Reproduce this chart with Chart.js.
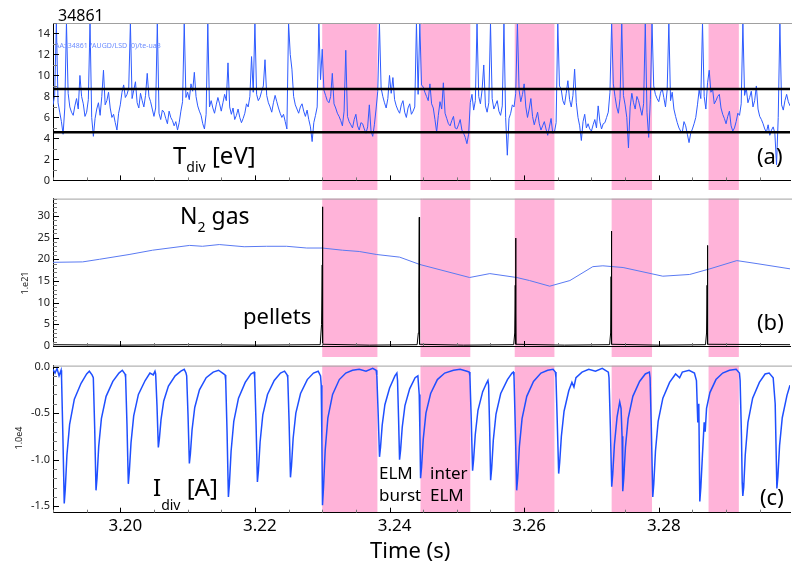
<!DOCTYPE html>
<html>
<head>
<meta charset="utf-8">
<script src="https://cdn.jsdelivr.net/npm/chart.js@4.4.0/dist/chart.umd.min.js"></script>
<style>
  body { margin: 0; background: #fff; }
  #wrap { position: relative; width: 792px; height: 565px; overflow: hidden; font-family: 'Noto Sans', sans-serif; }
  canvas { position: absolute; left: 0; }
  .lbl { position: absolute; line-height: 1; white-space: nowrap; color: #000; }
  .sb { font-size: 14px; position: relative; }
  .rot { position: absolute; font-size: 9px; color: #222; transform: translate(-50%, -50%) rotate(-90deg); white-space: nowrap; line-height: 1; }
</style>
</head>
<body>
<div id="wrap">
  <canvas id="ca" width="792" height="190" style="top:0px"></canvas>
  <canvas id="cb" width="792" height="168" style="top:189px"></canvas>
  <canvas id="cc" width="792" height="209" style="top:356px"></canvas>

  <div class="lbl" style="left:58px;top:7px;font-size:16px">34861</div>
  <div class="lbl" style="left:55px;top:41.5px;font-size:7px;color:#6d8dff">AA: 34861 /AUGD/LSD (0)/te-ua3</div>
  <div class="lbl" style="left:173px;top:143px;font-size:24px">T<span class="sb" style="top:8px">div</span> [eV]</div>
  <div class="lbl" style="left:757px;top:143.5px;font-size:22px">(a)</div>
  <div class="lbl" style="left:180px;top:204px;font-size:23px">N<span class="sb" style="top:8px">2</span> gas</div>
  <div class="lbl" style="left:243px;top:304px;font-size:22px">pellets</div>
  <div class="lbl" style="left:757px;top:310px;font-size:22px">(b)</div>
  <div class="lbl" style="left:153px;top:475px;font-size:24px">I<span class="sb" style="top:14px">div</span> [A]</div>
  <div class="lbl" style="left:379px;top:462px;font-size:17px;line-height:22px">ELM<br>burst</div>
  <div class="lbl" style="left:430px;top:462px;font-size:17px;line-height:22px">inter<br>ELM</div>
  <div class="lbl" style="left:760px;top:485px;font-size:22px">(c)</div>
  <div class="lbl" style="left:370px;top:538px;font-size:22px">Time (s)</div>
  <div class="rot" style="left:24px;top:283px">1.e21</div>
  <div class="rot" style="left:18px;top:438px">1.0e4</div>
</div>

<script>
// time axis
const xMin = 3.19, xMax = 3.2995;
const xMinorStep = 0.005, xMajorStep = 0.02;

// shaded intervals (s)
const bandStart = [3.2300, 3.2446, 3.2586, 3.2730, 3.2874];
const bandEnd   = [3.2382, 3.2520, 3.2645, 3.2790, 3.2919];

// (a) divertor temperature, eV, one sample every 0.25 ms from 3.19 s
const tdivStart = 3.19, tdivStep = 0.00025;
const tdivValues = [
  7.2,8.1,15,7.4,6.5,5.6,4.4,6.9,15,8.3,7.0,6.5,6.2,7.1,7.8,6.8,10.0,8.0,7.3,6.1,
  6.5,7.7,15,6.0,4.2,5.9,6.8,7.4,6.2,8.0,10.5,7.2,7.6,8.4,6.9,6.0,6.3,5.5,4.8,6.4,
  7.2,8.4,9.1,7.9,8.2,8.8,15,7.8,8.6,9.4,7.4,6.9,8.3,7.6,7.0,8.1,10.2,8.0,7.5,6.8,
  6.1,6.9,15,6.4,5.8,6.7,6.5,5.9,5.4,6.6,6.0,5.7,5.2,5.6,4.8,5.5,6.6,7.5,15,7.9,
  8.4,7.7,9.2,8.5,10.3,8.0,7.1,6.6,6.2,5.4,4.9,6.3,15,7.0,7.6,6.9,6.4,7.2,7.9,7.3,
  6.6,7.4,8.2,7.6,11.2,7.0,6.3,6.9,5.8,6.2,6.8,6.0,5.5,5.9,6.4,7.3,7.0,8.0,11.8,8.4,
  15,8.2,7.6,7.9,8.5,9.0,11.5,8.1,7.4,7.0,6.5,7.4,8.1,7.5,6.9,6.4,6.0,6.3,5.6,4.9,
  15,12.0,10.6,8.0,7.2,6.8,6.4,7.0,7.3,6.6,6.1,6.7,5.8,5.1,3.7,5.5,6.2,7.0,15,9.6,
  12.5,8.6,8.1,7.6,7.4,8.0,10.2,7.3,6.9,6.4,6.1,5.7,5.2,6.6,12.4,6.1,5.6,5.3,5.0,5.8,
  6.3,5.2,4.8,5.5,5.4,4.9,4.5,5.1,7.2,4.7,4.2,5.3,6.8,8.5,15,8.8,8.0,7.4,6.9,7.8,
  10.0,8.3,9.8,7.7,7.1,6.7,6.4,7.2,7.6,6.5,6.0,6.9,7.3,6.3,6.6,7.0,15,8.2,15,9.1,
  8.9,8.4,8.0,7.6,9.2,7.3,6.9,5.8,4.6,6.2,7.5,6.8,9.3,6.4,5.9,5.4,5.2,5.7,6.1,5.0,
  4.9,5.3,5.8,4.8,4.5,4.1,3.5,4.4,7.4,8.2,6.7,7.6,15,8.0,7.3,8.6,11.0,7.1,6.5,7.4,
  15,7.8,6.8,7.2,7.6,6.6,6.2,7.1,15,6.0,2.4,5.9,6.4,7.2,7.0,8.3,15,8.6,7.5,8.2,
  9.2,7.0,6.0,6.8,7.8,6.1,5.3,5.9,6.5,5.4,4.8,5.2,5.6,4.9,4.3,5.1,5.9,4.5,4.6,5.5,
  15,9.0,8.7,7.6,7.2,8.3,9.5,7.7,7.0,8.1,10.6,7.4,6.0,5.2,3.8,5.6,6.3,5.0,5.4,4.9,
  4.7,5.3,5.8,5.0,7.1,5.6,4.9,5.4,5.5,6.0,6.5,8.4,15,9.2,8.0,7.0,6.4,7.8,15,8.1,
  7.2,6.0,3.1,7.0,8.3,7.4,6.8,8.0,7.6,6.9,6.2,7.3,15,6.5,4.1,7.7,15,9.0,8.2,7.8,
  7.5,8.3,8.8,7.9,7.0,8.6,15,7.6,8.4,6.8,6.1,5.5,5.0,4.7,4.6,5.6,5.2,4.4,3.6,4.5,
  4.9,5.4,6.0,7.2,8.6,7.8,15,8.0,6.8,9.3,10.5,8.4,8.7,7.3,7.6,8.0,8.2,6.9,6.3,5.9,
  5.4,6.1,6.6,5.2,4.7,5.0,5.6,6.4,6.2,7.3,15,8.1,8.8,7.4,7.9,8.5,7.0,7.6,9.0,6.8,
  6.1,5.8,5.4,4.9,4.6,5.3,4.3,4.8,5.1,4.5,1.5,6.0,15,7.2,6.7,7.6,8.2,7.5,7.1,6.6
];
const tdivLevels = [8.7, 4.6];
const tdivMajor = 2, tdivMinor = 1;

// (b) N2 gas and pellets, 1e21
const n2Points = [
  [3.1899,19.3],[3.1944,19.4],[3.1969,20.0],[3.2013,21.1],[3.2048,22.1],[3.2103,23.2],
  [3.2122,23.0],[3.2147,23.4],[3.2184,22.9],[3.2217,23.0],[3.2247,23.0],[3.2277,22.6],
  [3.2300,22.6],[3.2330,22.1],[3.2355,21.8],[3.2381,21.1],[3.2415,20.5],[3.2445,18.8],
  [3.2519,15.8],[3.2549,16.7],[3.2589,15.8],[3.2608,15.1],[3.2638,13.8],[3.2668,15.1],
  [3.2702,18.3],[3.2717,18.5],[3.2747,18.1],[3.2806,16.1],[3.2846,16.5],[3.2876,17.8],
  [3.2916,19.7],[3.2946,19.0],[3.2995,17.8]
];
const pelletPoints = [
  [3.1900,0.3],[3.2000,0.2],[3.2100,0.3],[3.2200,0.2],
  [3.2297,0.3],[3.2299,5],[3.2300,18.7],[3.23004,32.1],[3.23008,0.4],[3.2370,0.2],
  [3.2441,0.3],[3.24428,3],[3.24435,12],[3.24442,29.7],[3.24446,0.4],[3.2510,0.2],
  [3.25845,0.3],[3.2586,3],[3.25868,14],[3.25874,24.9],[3.25878,0.4],[3.2660,0.2],
  [3.2727,0.3],[3.27285,3],[3.27292,16],[3.27297,26.5],[3.27301,0.4],[3.2800,0.2],
  [3.28695,0.3],[3.2871,3],[3.28718,14],[3.28724,23.2],[3.28728,0.4],[3.2995,0.3]
];
const n2Major = 5, n2Minor = 1;

// (c) divertor current, 1e4 A
const idivPoints = [
  [3.1900,-0.03],[3.1903,-0.07],[3.1906,-0.02],[3.1909,-0.10],[3.1912,-0.04],
  [3.19127,-0.12],[3.19147,-0.75],[3.19167,-1.47],[3.19182,-1.32],[3.19207,-0.95],[3.19247,-0.62],[3.19317,-0.35],[3.19417,-0.18],[3.19500,-0.08],[3.19540,-0.05],[3.19580,-0.09],
  [3.19599,-0.12],[3.19619,-0.65],[3.19639,-1.33],[3.19654,-1.20],[3.19679,-0.86],[3.19719,-0.56],[3.19789,-0.32],[3.19889,-0.16],[3.19980,-0.07],[3.20030,-0.04],[3.20070,-0.08],
  [3.20079,-0.12],[3.20099,-0.62],[3.20119,-1.26],[3.20134,-1.13],[3.20159,-0.82],[3.20199,-0.53],[3.20269,-0.30],[3.20369,-0.15],[3.20440,-0.07],[3.20490,-0.09],[3.20515,-0.05],
  [3.20525,-0.08],[3.20545,-0.42],[3.20565,-0.87],[3.20580,-0.78],[3.20605,-0.57],[3.20645,-0.37],[3.20715,-0.21],[3.20815,-0.10],[3.20900,-0.05],[3.20950,-0.03],[3.20976,-0.07],
  [3.20986,-0.10],[3.21006,-0.52],[3.21026,-1.04],[3.21041,-0.94],[3.21066,-0.68],[3.21106,-0.44],[3.21176,-0.25],[3.21276,-0.12],[3.21380,-0.06],[3.21460,-0.04],[3.21520,-0.07],[3.21556,-0.09],
  [3.21566,-0.15],[3.21586,-0.70],[3.21606,-1.40],[3.21621,-1.26],[3.21646,-0.91],[3.21686,-0.59],[3.21756,-0.34],[3.21856,-0.17],[3.21940,-0.08],[3.21987,-0.06],
  [3.21997,-0.12],[3.22017,-0.62],[3.22037,-1.24],[3.22052,-1.12],[3.22077,-0.81],[3.22117,-0.52],[3.22187,-0.30],[3.22287,-0.15],[3.22380,-0.07],[3.22440,-0.05],[3.22478,-0.09],
  [3.22488,-0.12],[3.22508,-0.60],[3.22528,-1.19],[3.22543,-1.07],[3.22568,-0.77],[3.22608,-0.50],[3.22678,-0.29],[3.22778,-0.14],[3.22870,-0.07],[3.22940,-0.05],[3.22975,-0.10],
  [3.22985,-0.20],[3.22995,-0.80],[3.23004,-1.49],[3.23019,-1.30],[3.23044,-0.90],[3.23084,-0.55],[3.23154,-0.30],[3.23254,-0.14],[3.23350,-0.07],[3.23450,-0.04],[3.23550,-0.03],[3.23650,-0.05],[3.23750,-0.02],[3.23801,-0.04],
  [3.23811,-0.10],[3.23831,-0.50],[3.23851,-0.97],[3.23866,-0.87],[3.23891,-0.63],[3.23931,-0.41],[3.24001,-0.23],[3.24080,-0.10],[3.24109,-0.07],
  [3.24119,-0.15],[3.24134,-0.55],[3.24149,-1.00],[3.24164,-0.90],[3.24189,-0.65],[3.24229,-0.42],[3.24299,-0.24],[3.24380,-0.12],[3.24421,-0.10],
  [3.24441,-0.30],[3.24451,-0.70],[3.24461,-1.20],[3.24476,-1.08],[3.24501,-0.78],[3.24541,-0.50],[3.24611,-0.29],[3.24711,-0.14],[3.24820,-0.07],[3.24950,-0.04],[3.25050,-0.03],[3.25150,-0.05],[3.25184,-0.06],
  [3.25194,-0.10],[3.25214,-0.56],[3.25234,-1.12],[3.25249,-1.00],[3.25274,-0.73],[3.25314,-0.47],[3.25384,-0.27],[3.25440,-0.18],[3.25462,-0.15],
  [3.25472,-0.20],[3.25487,-0.65],[3.25502,-1.22],[3.25517,-1.10],[3.25542,-0.79],[3.25582,-0.51],[3.25652,-0.29],[3.25752,-0.14],[3.25820,-0.07],[3.25839,-0.06],
  [3.25849,-0.10],[3.25869,-0.66],[3.25889,-1.33],[3.25904,-1.20],[3.25929,-0.86],[3.25969,-0.56],[3.26039,-0.32],[3.26139,-0.16],[3.26250,-0.07],[3.26350,-0.04],[3.26430,-0.03],[3.26463,-0.06],
  [3.26473,-0.12],[3.26493,-0.62],[3.26513,-1.15],[3.26528,-1.03],[3.26553,-0.75],[3.26593,-0.48],[3.26663,-0.26],[3.26710,-0.17],[3.26740,-0.22],[3.26770,-0.12],[3.26860,-0.06],[3.26960,-0.03],[3.27060,-0.05],[3.27160,-0.02],[3.27251,-0.06],
  [3.27261,-0.12],[3.27281,-0.65],[3.27301,-1.29],[3.27316,-1.16],[3.27341,-0.84],[3.27381,-0.54],[3.27420,-0.38],[3.27440,-0.45],
  [3.27455,-0.75],[3.27465,-1.34],[3.27480,-1.20],[3.27505,-0.87],[3.27545,-0.56],[3.27615,-0.32],[3.27715,-0.16],[3.27800,-0.08],[3.27861,-0.06],
  [3.27871,-0.12],[3.27891,-0.70],[3.27911,-1.40],[3.27926,-1.26],[3.27951,-0.91],[3.27991,-0.59],[3.28061,-0.34],[3.28161,-0.17],[3.28250,-0.08],[3.28310,-0.12],[3.28350,-0.06],[3.28450,-0.04],[3.28530,-0.07],
  [3.28560,-0.15],[3.28580,-0.60],[3.28595,-0.40],[3.28610,-1.45],[3.28625,-1.30],[3.28650,-0.94],[3.28675,-0.60],[3.28690,-0.70],[3.28710,-0.45],[3.28760,-0.28],[3.28850,-0.14],[3.28950,-0.07],[3.29050,-0.04],[3.29150,-0.03],[3.29199,-0.07],
  [3.29209,-0.15],[3.29229,-0.75],[3.29240,-1.25],[3.29249,-1.39],[3.29262,-1.30],[3.29285,-0.95],[3.29325,-0.60],[3.29395,-0.34],[3.29495,-0.17],[3.29580,-0.08],[3.29640,-0.07],[3.29700,-0.12],[3.29730,-0.40],
  [3.29755,-1.31],[3.29770,-1.18],[3.29795,-0.85],[3.29835,-0.55],[3.29905,-0.31],[3.29950,-0.20]
];
const idivMajor = 0.5, idivMinor = 0.1;

const pink = '#ffb3d9';
const fontFam = "'Noto Sans', sans-serif";

function isMultiple(v, step) {
  const r = v / step;
  return Math.abs(r - Math.round(r)) < 1e-6;
}

function stepTicks(lo, hi, step) {
  const out = [];
  for (let k = Math.ceil(lo / step - 1e-9); k * step <= hi + 1e-9; k++) {
    out.push({value: +(k * step).toFixed(6)});
  }
  return out;
}

const toXY = arr => arr.map(p => ({x: p[0], y: p[1]}));

// pink intervals behind everything, optionally running down into the gap below
const bandsPlugin = {
  id: 'bands',
  beforeDraw(chart, args, opts) {
    const {ctx, chartArea: a, scales: {x}} = chart;
    const bottom = opts.toEdge ? chart.height : a.bottom;
    ctx.save();
    ctx.fillStyle = pink;
    bandStart.forEach((s, i) => {
      const x0 = x.getPixelForValue(s), x1 = x.getPixelForValue(bandEnd[i]);
      ctx.fillRect(x0, a.top, x1 - x0, bottom - a.top);
    });
    ctx.restore();
  }
};

// ticks pointing into the plot + grey top frame line
const innerTicksPlugin = {
  id: 'innerTicks',
  afterDraw(chart, args, opts) {
    const {ctx, chartArea: a, scales: {x, y}} = chart;
    ctx.save();
    ctx.lineWidth = 1;
    ctx.strokeStyle = '#a0a0a0';
    ctx.beginPath();
    ctx.moveTo(a.left, a.top + 0.5);
    ctx.lineTo(chart.width, a.top + 0.5);
    ctx.stroke();
    x.ticks.forEach(t => {
      const major = isMultiple(t.value, xMajorStep);
      const px = Math.round(x.getPixelForValue(t.value)) + 0.5;
      ctx.strokeStyle = major ? '#000' : '#777';
      ctx.beginPath();
      ctx.moveTo(px, a.bottom);
      ctx.lineTo(px, a.bottom - (major ? 5 : 3));
      ctx.stroke();
    });
    y.ticks.forEach(t => {
      const major = isMultiple(t.value, opts.yMajor);
      const py = Math.round(y.getPixelForValue(t.value)) + 0.5;
      ctx.strokeStyle = major ? '#000' : '#777';
      ctx.beginPath();
      ctx.moveTo(a.left, py);
      ctx.lineTo(a.left + (major ? 6 : 4), py);
      ctx.stroke();
    });
    ctx.restore();
  }
};

Chart.register(bandsPlugin, innerTicksPlugin);

function panelOptions(o) {
  return {
    responsive: false,
    animation: false,
    devicePixelRatio: 1,
    layout: {padding: {left: 0, right: 2, top: o.padTop, bottom: 0}},
    elements: {point: {radius: 0}, line: {tension: 0}},
    plugins: {
      legend: {display: false},
      tooltip: {enabled: false},
      bands: {toEdge: o.toEdge},
      innerTicks: {yMajor: o.yMajor}
    },
    scales: {
      x: {
        type: 'linear', min: xMin, max: xMax,
        afterFit: s => { s.height = o.xHeight; },
        afterBuildTicks: s => { s.ticks = stepTicks(xMin, xMax, xMinorStep); },
        grid: {display: false, drawTicks: false},
        border: {display: true, color: '#000', width: 1},
        ticks: {
          display: o.xLabels, autoSkip: false, maxRotation: 0, padding: 3, labelOffset: 5,
          color: '#000', font: {family: fontFam, size: 17},
          callback: v => isMultiple(v, xMajorStep) ? v.toFixed(2) : ''
        }
      },
      y: {
        type: 'linear', min: o.yMin, max: o.yMax,
        afterFit: s => { s.width = 53; },
        afterBuildTicks: s => { s.ticks = stepTicks(o.yMin, o.yMax, o.yMinor); },
        grid: {display: false, drawTicks: false},
        border: {display: true, color: '#000', width: 1},
        ticks: {
          autoSkip: false, padding: 3,
          color: '#222', font: {family: fontFam, size: 11},
          callback: v => isMultiple(v, o.yMajor) ? o.fmt(v) : ''
        }
      }
    }
  };
}

const tdivPoints = tdivValues.map((v, i) => ({x: tdivStart + i * tdivStep, y: v}));

new Chart(document.getElementById('ca'), {
  type: 'line',
  data: {
    datasets: tdivLevels.map(l => ({
      data: [{x: xMin, y: l}, {x: xMax, y: l}],
      borderColor: '#000', borderWidth: 2.5
    })).concat([{
      data: tdivPoints, borderColor: '#2e5bff', borderWidth: 1
    }])
  },
  options: panelOptions({
    padTop: 23, xHeight: 9.5, xLabels: false, toEdge: true,
    yMin: 0, yMax: 15, yMinor: tdivMinor, yMajor: tdivMajor,
    fmt: v => String(Math.round(v))
  })
});

new Chart(document.getElementById('cb'), {
  type: 'line',
  data: {
    datasets: [
      {data: toXY(pelletPoints), borderColor: '#000', borderWidth: 1},
      {data: toXY(n2Points), borderColor: '#5a7af2', borderWidth: 1}
    ]
  },
  options: panelOptions({
    padTop: 1, xHeight: 11, xLabels: false, toEdge: true,
    yMin: 0, yMax: 34, yMinor: n2Minor, yMajor: n2Major,
    fmt: v => String(Math.round(v))
  })
});

new Chart(document.getElementById('cc'), {
  type: 'line',
  data: {
    datasets: [
      {data: toXY(idivPoints), borderColor: '#1f4fff', borderWidth: 1.5}
    ]
  },
  options: panelOptions({
    padTop: 0.7, xHeight: 52.3, xLabels: true, toEdge: false,
    yMin: -1.57, yMax: 0.01, yMinor: idivMinor, yMajor: idivMajor,
    fmt: v => (Math.abs(v) < 1e-9 ? 0 : v).toFixed(1)
  })
});
</script>
</body>
</html>
